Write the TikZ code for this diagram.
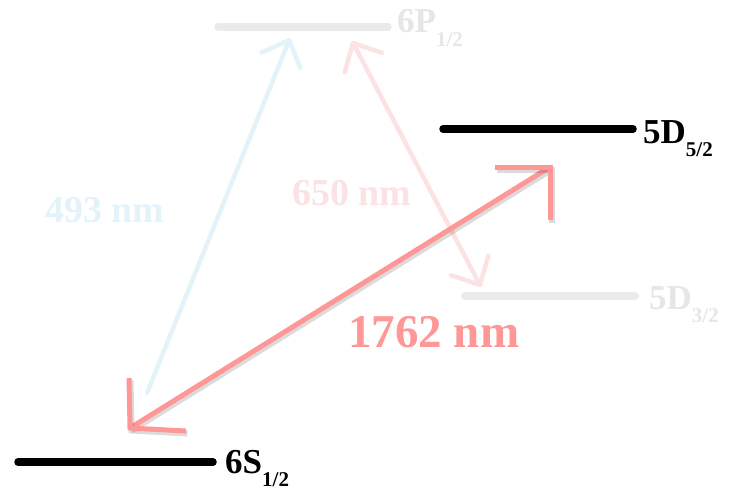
\documentclass[tikz,border=0pt]{standalone}
\usepackage{fontspec}
\setmainfont{Liberation Serif}
\usetikzlibrary{arrows.meta,positioning,calc}
\definecolor{cLevel}{HTML}{000000}
\definecolor{cGhost}{HTML}{EAEAEA}
\definecolor{cGhostTxt}{HTML}{E6E6E6}
\definecolor{cBlue}{HTML}{E4F2FA}
\definecolor{cPinkPale}{HTML}{FCE2E2}
\definecolor{cPink}{HTML}{FF9797}
\tikzset{
  level/.style={line width=7.5pt, line cap=round, cLevel},
  ghostlevel/.style={level, cGhost},
  lvllbl/.style={font=\fontsize{35}{35}\selectfont\bfseries, inner sep=0pt, anchor=base west},
  ghostlbl/.style={lvllbl, text=cGhostTxt},
  wavelbl/.style={font=\fontsize{38}{38}\selectfont\bfseries, inner sep=0pt, anchor=base west},
  shadowed/.style={preaction={draw=black, opacity=0.14, line width=6pt,
                   transform canvas={shift={(1.5pt,-2.5pt)}}}},
  paleblue/.style={line width=4.5pt, cBlue, line cap=round,
                   -{Straight Barb[length=22pt, width=42pt, round]}},
  palepink/.style={line width=4.5pt, cPinkPale, line cap=round,
                   {Straight Barb[length=22pt, width=42pt, round]}-{Straight Barb[length=22pt, width=42pt, round]}},
  quadarr/.style={line width=5pt, cPink, shadowed}
}
\newcommand{\lsub}[1]{\raisebox{-0.38em}{\fontsize{21}{21}\selectfont #1}}

\begin{document}
\begin{tikzpicture}[x=1pt, y=-1pt]
\useasboundingbox (0,0) rectangle (741,492);
% Levels
\coordinate (s1) at (18,462);  \coordinate (s2) at (213,462);
\coordinate (p1) at (218,27);  \coordinate (p2) at (388,27);
\coordinate (df1) at (443,129); \coordinate (df2) at (633,129);
\coordinate (dt1) at (465,296); \coordinate (dt2) at (635,296);
\draw[ghostlevel] (p1) -- (p2);
\draw[ghostlevel] (dt1) -- (dt2);
\draw[level] (s1) -- (s2);
\draw[level] (df1) -- (df2);
\node[lvllbl] (lS) at (225,473) {6S\lsub{1/2}};
\node[ghostlbl] (lP) at (397,33) {6P\lsub{1/2}};
\node[lvllbl] (lDf) at (643,143) {5D\lsub{5/2}};
\node[ghostlbl] (lDt) at (649,309) {5D\lsub{3/2}};
% Cooling and repump lasers
\coordinate (b0) at (147,393); \coordinate (b1) at (290,38);
\coordinate (r0) at (352,41);  \coordinate (r1) at (481,287);
\draw[paleblue] (b0) -- (b1);
\draw[palepink] (r0) -- (r1);
\node[wavelbl, text=cBlue] (l493) at (45,222) {493 nm};
\node[wavelbl, text=cPinkPale] (l650) at (292,205) {650 nm};
% Quadrupole transition
\coordinate (q0) at (130,428); \coordinate (q1) at (550,167);
\draw[quadarr] (q0) -- (q1);
\draw[quadarr] ($(q1)+(-55,0)$) -- (q1) -- ++(0,53);
\draw[quadarr] ($(q0)+(-1,-50)$) -- (q0) -- ++(56,3);
\node[wavelbl, font=\fontsize{47}{47}\selectfont\bfseries, text=cPink] (l1762) at (348,347) {1762 nm};
\end{tikzpicture}
\end{document}
